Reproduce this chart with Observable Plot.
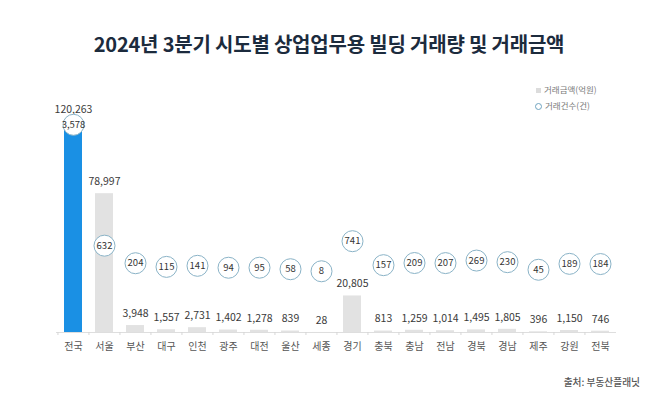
<!DOCTYPE html>
<html><head><meta charset="utf-8">
<script src="https://cdn.jsdelivr.net/npm/d3@7"></script>
<script src="https://cdn.jsdelivr.net/npm/@observablehq/plot@0.6"></script>
<style>
html,body{margin:0;padding:0;background:#fff;}
#wrap{position:relative;width:658px;height:405px;overflow:hidden;font-family:"Noto Sans CJK KR","Noto Sans",sans-serif;}
#title{position:absolute;left:0;width:658px;top:29px;text-align:center;}
#title span{display:inline-block;font-weight:700;font-size:20px;color:#1c2b3d;white-space:nowrap;letter-spacing:-0.2px;}
#chart{position:absolute;left:0;top:0;}
.leg{position:absolute;font-size:8.5px;color:#7a7a7a;white-space:nowrap;}
.leg i{display:inline-block;vertical-align:middle;margin-right:3px;}
#src{position:absolute;right:18px;top:375px;font-size:9.7px;font-weight:500;color:#555;white-space:nowrap;}
</style></head>
<body>
<div id="wrap">
  <div id="title"><span>2024년 3분기 시도별 상업업무용 빌딩 거래량 및 거래금액</span></div>
  <div id="chart"></div>
  <div class="leg" style="left:536px;top:83px;"><i style="width:5px;height:5px;background:#dcdcdc;"></i>거래금액(억원)</div>
  <div class="leg" style="left:535px;top:99px;"><i style="width:5px;height:5px;border:1px solid #6fa3bf;border-radius:50%;"></i>거래건수(건)</div>
  <div id="src">출처: 부동산플래닛</div>
</div>
<script>
const categories = ["전국","서울","부산","대구","인천","광주","대전","울산","세종","경기","충북","충남","전남","경북","경남","제주","강원","전북"];
const amounts = [120263,78997,3948,1557,2731,1402,1278,839,28,20805,813,1259,1014,1495,1805,396,1150,746];
const counts = [3578,632,204,115,141,94,95,58,8,741,157,209,207,269,230,45,189,184];

const rows = categories.map((c, i) => ({cat: c, amount: amounts[i], count: counts[i], total: i === 0}));
// secondary (count) axis expressed in the primary (amount) scale's units
const countAxis = d3.scaleLinear().domain([0, 1000]).range([34659, 34659 + 23350]);
const fmt = d3.format(",");
const font = "Noto Sans CJK KR, Noto Sans, sans-serif";

const chart = Plot.plot({
  width: 658, height: 405,
  marginTop: 86, marginBottom: 73, marginLeft: 56, marginRight: 42,
  style: {fontFamily: font, background: "transparent", overflow: "visible"},
  x: {domain: categories, paddingInner: 0.42, paddingOuter: 0.21, label: null},
  y: {domain: [0, 140000], axis: null},
  marks: [
    Plot.barY(rows, {x: "cat", y: "amount", fill: d => d.total ? "#1a90e4" : "#e2e2e2"}),
    Plot.ruleY([0], {stroke: "#dedede", strokeWidth: 1}),
    Plot.axisX({tickSize: 3, text: null, stroke: "#d6d6d6", dx: -15.55}),
    Plot.axisX({tickSize: 0, tickPadding: 10, fontSize: 10, fill: "#555"}),
    Plot.text(rows, {x: "cat", y: "amount", text: d => fmt(d.amount), dy: -12, fontSize: 10.5, fill: "#3a3a3a"}),
    Plot.dot(rows, {x: "cat", y: d => countAxis(d.count), r: 10.5, fill: "white", stroke: "#8ab3c7", strokeWidth: 1}),
    Plot.text(rows, {x: "cat", y: d => countAxis(d.count), text: d => fmt(d.count), fontSize: 9.5, fill: "#333"})
  ]
});
document.getElementById("chart").appendChild(chart);
</script>
</body></html>
